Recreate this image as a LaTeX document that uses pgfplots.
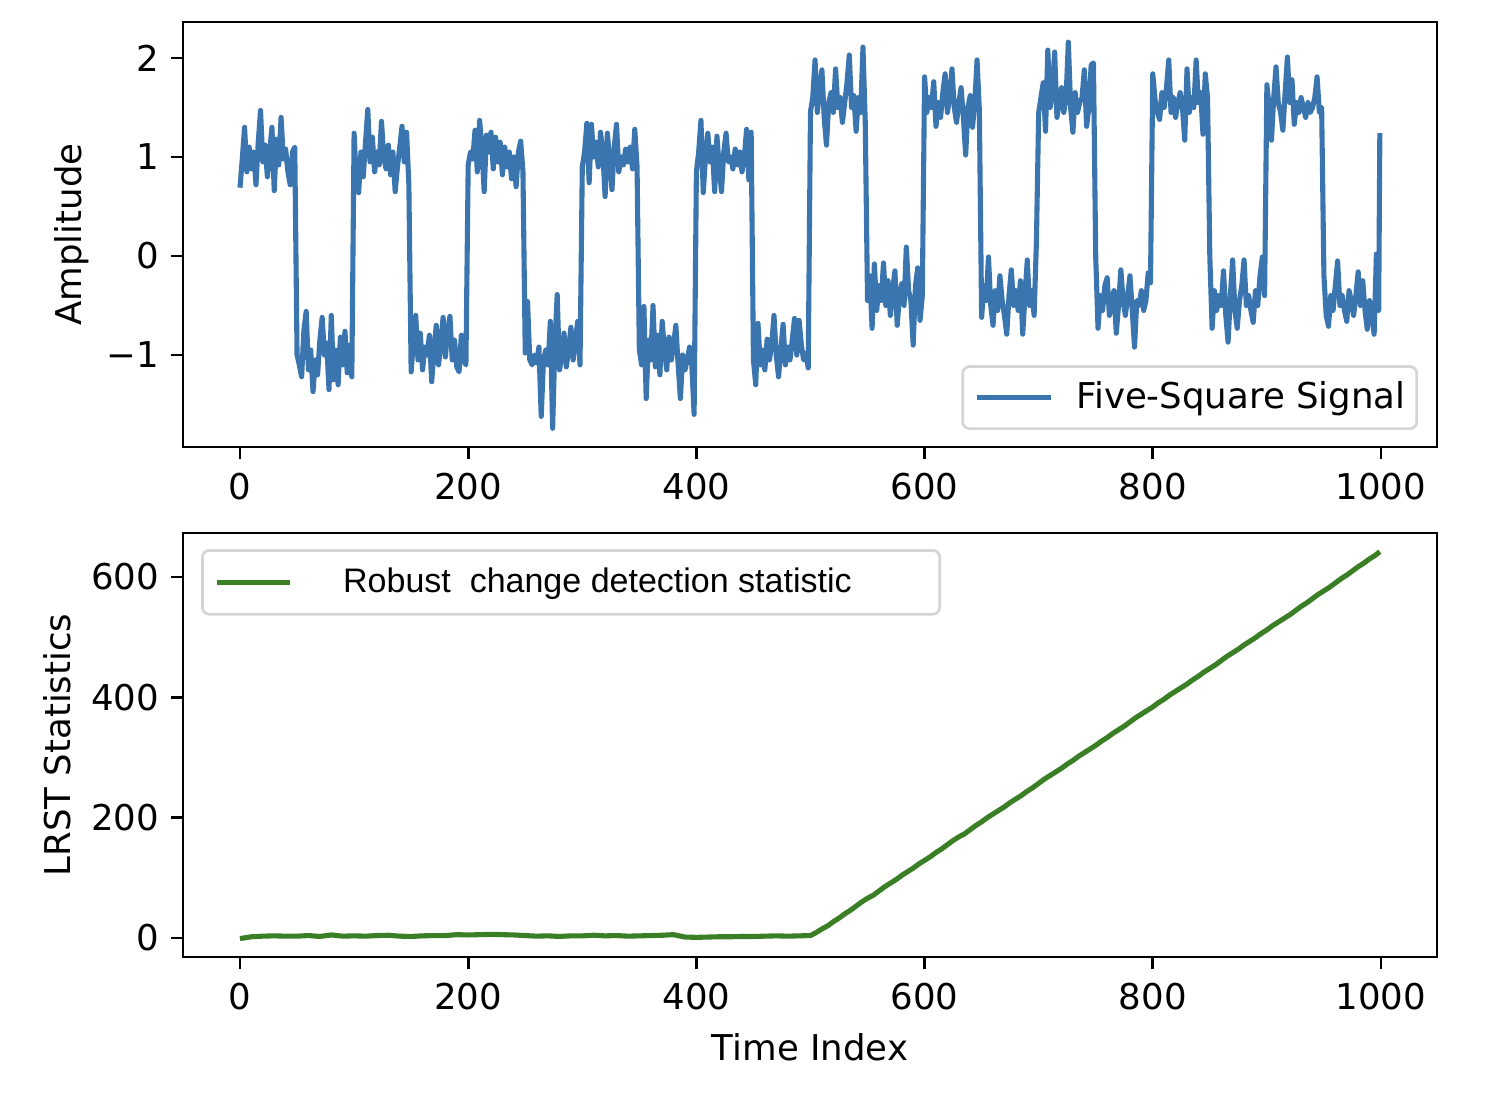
\documentclass[border=0pt]{standalone}
\usepackage{pgfplots}
\pgfplotsset{compat=1.18}
\usepackage{fontspec}
\setmainfont{DejaVu Sans}
\newfontfamily\arialfont{Liberation Sans}
\definecolor{sigblue}{HTML}{3B75AF}
\definecolor{statgreen}{HTML}{3A7F26}
\definecolor{legframe}{HTML}{D5D5D5}
\pgfplotsset{
  myaxis/.style={
    scale only axis,
    width=368.8pt,
    xmin=-49.96, xmax=1049.1,
    axis line style={line width=0.8pt, black},
    tick align=outside,
    xtick pos=bottom, ytick pos=left,
    major tick length=3.5pt,
    tick style={line width=0.8pt, black},
    xtick={0,200,400,600,800,1000},
    xticklabels={0,200,400,600,800,1000},
    tick label style={font=\fontsize{10.45}{12.5}\selectfont},
    xticklabel style={yshift=-0.6pt},
    label style={font=\fontsize{10.45}{12.5}\selectfont},
    legend cell align=left,
  },
}
\begin{document}
\begin{tikzpicture}
\useasboundingbox (0pt,0pt) rectangle (438.8pt,-327.9pt);
% ---------------- top panel ----------------
\begin{axis}[myaxis,
  at={(53.82pt,-131.46pt)}, anchor=south west,
  height=125.0pt,
  ymin=-1.929, ymax=2.364,
  ytick={-1,0,1,2},
  yticklabels={−1,0,1,2},
  ylabel={Amplitude},
  ylabel style={at={(axis description cs:-0.0885,0.5)}, anchor=center},
  legend style={at={(rel axis cs:0.985,0.04)}, anchor=south east,
    draw=legframe, line width=0.8pt, rounded corners=2pt,
    fill=white, fill opacity=0.8, text opacity=1,
    inner xsep=3.4pt, inner ysep=4.4pt, nodes={inner sep=0pt},
    column sep=6.7pt, font=\fontsize{10.45}{12.5}\selectfont},
  legend image code/.code={\path (0pt,0pt) (21.8pt,0pt); \draw[#1,overlay] (0pt,0pt) -- (21.8pt,0pt);},
]
\addplot[sigblue, line width=1.5pt, line join=round] coordinates {
(0,0.69)(2,0.98)(4,1.30)(6,0.85)(8,1.10)(10,0.88)(12,1.05)(14,0.72)(16,1.15)(18,1.47)(20,0.95)(22,1.12)(24,0.80)(26,1.05)(28,1.30)(30,0.66)(32,1.18)(34,0.92)(36,1.40)(38,0.98)(40,1.08)(42,0.85)(44,0.72)(46,1.05)(48,1.10)
(50,-1.00)(52,-1.10)(54,-1.22)(56,-0.75)(58,-0.56)(60,-1.15)(62,-0.95)(64,-1.37)(66,-1.05)(68,-1.20)(70,-0.85)(72,-0.62)(74,-1.00)(76,-0.88)(78,-1.35)(80,-0.60)(82,-1.25)(84,-0.95)(86,-1.30)(88,-0.82)(90,-1.10)(92,-0.76)(94,-1.18)(96,-0.90)(98,-1.22)
(100,1.24)(102,0.75)(104,0.64)(106,1.05)(108,0.80)(110,1.15)(112,1.48)(114,0.95)(116,1.20)(118,0.85)(120,1.05)(122,0.92)(124,1.36)(126,1.00)(128,0.88)(130,1.12)(132,0.82)(134,1.05)(136,0.65)(138,0.90)(140,1.10)(142,1.31)(144,0.95)(146,1.25)(148,0.72)
(150,-1.17)(152,-0.85)(154,-0.60)(156,-1.05)(158,-0.78)(160,-1.15)(162,-0.92)(164,-1.00)(166,-0.80)(168,-1.27)(170,-0.95)(172,-0.70)(174,-1.10)(176,-0.88)(178,-0.62)(180,-1.02)(182,-0.75)(184,-0.61)(186,-1.05)(188,-0.85)(190,-1.12)(192,-1.17)(194,-0.80)(196,-1.05)(198,-1.10)
(200,0.92)(202,1.05)(204,0.98)(206,1.27)(208,0.85)(210,1.37)(212,1.10)(214,0.65)(216,1.22)(218,1.05)(220,1.25)(222,0.88)(224,1.20)(226,0.95)(228,1.15)(230,0.82)(232,1.10)(234,0.90)(236,1.05)(238,0.78)(240,1.00)(242,0.70)(244,1.05)(246,1.16)(248,0.85)
(250,-0.98)(252,-0.46)(254,-1.05)(256,-1.10)(258,-1.00)(260,-1.08)(262,-0.92)(264,-1.62)(266,-1.05)(268,-0.95)(270,-1.10)(272,-0.66)(274,-1.74)(276,-0.88)(278,-0.39)(280,-1.15)(282,-1.02)(284,-0.78)(286,-1.12)(288,-0.95)(290,-0.72)(292,-1.05)(294,-0.85)(296,-0.66)(298,-1.10)
(300,0.90)(302,1.05)(304,1.34)(306,0.74)(308,1.33)(310,1.00)(312,1.15)(314,0.90)(316,1.25)(318,1.05)(320,0.60)(322,1.24)(324,0.95)(326,0.67)(328,1.10)(330,1.33)(332,0.85)(334,1.00)(336,0.92)(338,1.08)(340,0.95)(342,1.10)(344,0.88)(346,1.28)(348,0.90)
(350,-0.95)(352,-1.10)(354,-0.51)(356,-1.44)(358,-0.85)(360,-1.05)(362,-0.50)(364,-1.12)(366,-0.80)(368,-1.20)(370,-0.66)(372,-0.95)(374,-1.15)(376,-0.82)(378,-1.05)(380,-0.90)(382,-0.70)(384,-1.10)(386,-1.44)(388,-1.00)(390,-1.15)(392,-1.05)(394,-0.92)(396,-1.10)(398,-1.60)
(400,0.85)(402,1.05)(404,1.37)(406,0.64)(408,1.00)(410,1.24)(412,0.95)(414,1.10)(416,0.65)(418,1.21)(420,0.90)(422,0.65)(424,1.05)(426,1.24)(428,0.95)(430,1.00)(432,0.88)(434,1.08)(436,0.92)(438,1.05)(440,0.85)(442,1.00)(444,1.28)(446,0.77)(448,1.25)
(450,-1.05)(452,-1.30)(454,-0.68)(456,-1.10)(458,-0.95)(460,-1.15)(462,-0.84)(464,-1.05)(466,-0.90)(468,-0.60)(470,-1.00)(472,-1.22)(474,-0.95)(476,-0.69)(478,-1.10)(480,-0.92)(482,-1.05)(484,-0.85)(486,-0.63)(488,-1.00)(490,-0.65)(492,-0.90)(494,-1.05)(496,-0.98)(498,-1.13)
(500,1.46)(502,1.60)(504,1.98)(506,1.45)(508,1.70)(510,1.88)(512,1.40)(514,1.12)(516,1.55)(518,1.65)(520,1.45)(522,1.89)(524,1.50)(526,1.60)(528,1.35)(530,1.55)(532,1.75)(534,2.03)(536,1.50)(538,1.62)(540,1.26)(542,1.60)(544,1.45)(546,2.11)(548,1.35)
(550,-0.45)(552,-0.20)(554,-0.73)(556,-0.08)(558,-0.55)(560,-0.30)(562,-0.45)(564,-0.07)(566,-0.50)(568,-0.25)(570,-0.60)(572,-0.35)(574,-0.15)(576,-0.70)(578,-0.40)(580,-0.28)(582,-0.50)(584,0.09)(586,-0.35)(588,-0.45)(590,-0.90)(592,-0.30)(594,-0.12)(596,-0.65)(598,-0.40)
(600,1.81)(602,1.45)(604,1.60)(606,1.50)(608,1.76)(610,1.31)(612,1.55)(614,1.40)(616,1.65)(618,1.84)(620,1.45)(622,1.60)(624,1.89)(626,1.50)(628,1.35)(630,1.55)(632,1.70)(634,1.40)(636,1.02)(638,1.50)(640,1.62)(642,1.30)(644,1.55)(646,1.98)(648,1.47)
(650,-0.62)(652,-0.30)(654,-0.45)(656,-0.01)(658,-0.50)(660,-0.70)(662,-0.35)(664,-0.55)(666,-0.20)(668,-0.45)(670,-0.60)(672,-0.79)(674,-0.40)(676,-0.14)(678,-0.50)(680,-0.35)(682,-0.55)(684,-0.25)(686,-0.79)(688,-0.40)(690,-0.04)(692,-0.50)(694,-0.35)(696,-0.60)(698,0.14)
(700,1.45)(702,1.60)(704,1.75)(706,1.26)(708,2.08)(710,1.50)(712,1.65)(714,2.06)(716,1.40)(718,1.55)(720,1.70)(722,1.45)(724,1.60)(726,2.16)(728,1.50)(730,1.25)(732,1.65)(734,1.45)(736,1.55)(738,1.60)(740,1.88)(742,1.31)(744,1.50)(746,1.93)(748,1.95)
(750,-0.01)(752,-0.73)(754,-0.40)(756,-0.55)(758,-0.30)(760,-0.22)(762,-0.60)(764,-0.45)(766,-0.35)(768,-0.78)(770,-0.50)(772,-0.14)(774,-0.45)(776,-0.60)(778,-0.40)(780,-0.20)(782,-0.55)(784,-0.92)(786,-0.45)(788,-0.50)(790,-0.35)(792,-0.55)(794,-0.45)(796,-0.17)(798,-0.27)
(800,1.84)(802,1.58)(804,1.45)(806,1.38)(808,1.65)(810,1.50)(812,1.70)(814,1.98)(816,1.45)(818,1.60)(820,1.40)(822,1.55)(824,1.65)(826,1.50)(828,1.17)(830,1.89)(832,1.45)(834,1.60)(836,1.50)(838,1.98)(840,1.55)(842,1.65)(844,1.23)(846,1.84)(848,1.60)
(850,-0.01)(852,-0.73)(854,-0.35)(856,-0.55)(858,-0.40)(860,-0.50)(862,-0.15)(864,-0.60)(866,-0.87)(868,-0.40)(870,-0.04)(872,-0.55)(874,-0.73)(876,-0.45)(878,-0.30)(880,-0.04)(882,-0.50)(884,-0.40)(886,-0.55)(888,-0.67)(890,-0.35)(892,-0.50)(894,-0.20)(896,-0.01)(898,-0.40)
(900,1.73)(902,1.50)(904,1.17)(906,1.60)(908,1.91)(910,1.55)(912,1.45)(914,1.27)(916,1.65)(918,2.01)(920,1.55)(922,1.78)(924,1.33)(926,1.55)(928,1.45)(930,1.60)(932,1.50)(934,1.40)(936,1.55)(938,1.45)(940,1.50)(942,1.60)(944,1.81)(946,1.45)(948,1.50)
(950,-0.20)(952,-0.60)(954,-0.71)(956,-0.40)(958,-0.55)(960,-0.30)(962,-0.05)(964,-0.50)(966,-0.40)(968,-0.55)(970,-0.66)(972,-0.35)(974,-0.45)(976,-0.60)(978,-0.40)(980,-0.16)(982,-0.50)(984,-0.25)(986,-0.55)(988,-0.74)(990,-0.45)(992,-0.60)(994,-0.79)(996,0.02)(998,-0.55)(999,1.24)
};
\addlegendentry{Five-Square Signal}
\end{axis}
% ---------------- bottom panel ----------------
\begin{axis}[myaxis,
  at={(53.82pt,-281.45pt)}, anchor=south west,
  height=124.7pt,
  ymin=-31.6, ymax=673.1,
  ytick={0,200,400,600},
  yticklabels={0,200,400,600},
  ylabel={LRST Statistics},
  ylabel style={at={(axis description cs:-0.1005,0.5)}, anchor=center},
  xlabel={Time Index},
  xlabel style={at={(axis description cs:0.5,-0.212)}, anchor=center},
  legend style={at={(rel axis cs:0.0144,0.962)}, anchor=north west,
    draw=legframe, line width=0.8pt, rounded corners=2pt,
    fill=white, fill opacity=0.8, text opacity=1,
    inner xsep=3.4pt, inner ysep=5.0pt, nodes={inner sep=0pt},
    column sep=15pt, font=\fontsize{10}{12}\selectfont},
  legend image code/.code={\path (0pt,0pt) (21.5pt,0pt); \draw[#1,overlay] (0pt,0pt) -- (21.5pt,0pt);},
]
\addplot[statgreen, line width=1.5pt, line join=round] coordinates {
(0,-1)(10,2)(20,3)(30,3.5)(40,3)(50,3)(60,4)(70,2.5)(80,5)(90,3)(100,3.5)(110,3)(120,4)(130,4.5)(140,3)(150,2.5)(160,3.5)(170,4)(180,4)(190,5.5)
(200,5)(210,5.5)(220,6)(230,5.5)(240,5)(250,4)(260,3)(270,3.5)(280,2.5)(290,3.5)(300,3.5)(310,4.5)(320,3.5)(330,4)(340,3)(350,3.5)(360,4)(370,4.5)(380,5.5)(390,1.5)
(400,1)(410,1.5)(420,2)(430,2)(440,2.5)(450,2.5)(460,3)(470,3.5)(480,3)(490,3.5)(500,4)
(505,9)(510,15)(515,20)(520,27)(525,33)(530,40)(535,46)(540,53)(545,60)(550,66)(555,71)(560,78)(565,85)(570,91)(575,97)(580,104)(585,110)(590,116)(595,123)
(600,129)(605,135)(610,142)(615,148)(620,155)(625,162)(630,168)(635,173)(640,180)(645,187)(650,193)(655,200)(660,206)(665,212)(670,218)(675,225)(680,231)(685,237)(690,244)(695,250)
(700,257)(705,264)(710,270)(715,276)(720,282)(725,289)(730,295)(735,302)(740,308)(745,314)(750,320)(755,327)(760,333)(765,340)(770,346)(775,352)(780,359)(785,366)(790,372)(795,378)
(800,384)(805,391)(810,397)(815,404)(820,410)(825,416)(830,422)(835,429)(840,435)(845,442)(850,448)(855,454)(860,461)(865,468)(870,474)(875,480)(880,487)(885,493)(890,499)(895,506)
(900,512)(905,519)(910,525)(915,531)(920,537)(925,544)(930,551)(935,557)(940,564)(945,571)(950,577)(955,583)(960,590)(965,597)(970,603)(975,610)(980,617)(985,623)(990,630)(995,636)(999,642)
};
\addlegendentry{\arialfont Robust\ \ change detection statistic\kern22.5pt}
\end{axis}
\end{tikzpicture}
\end{document}
